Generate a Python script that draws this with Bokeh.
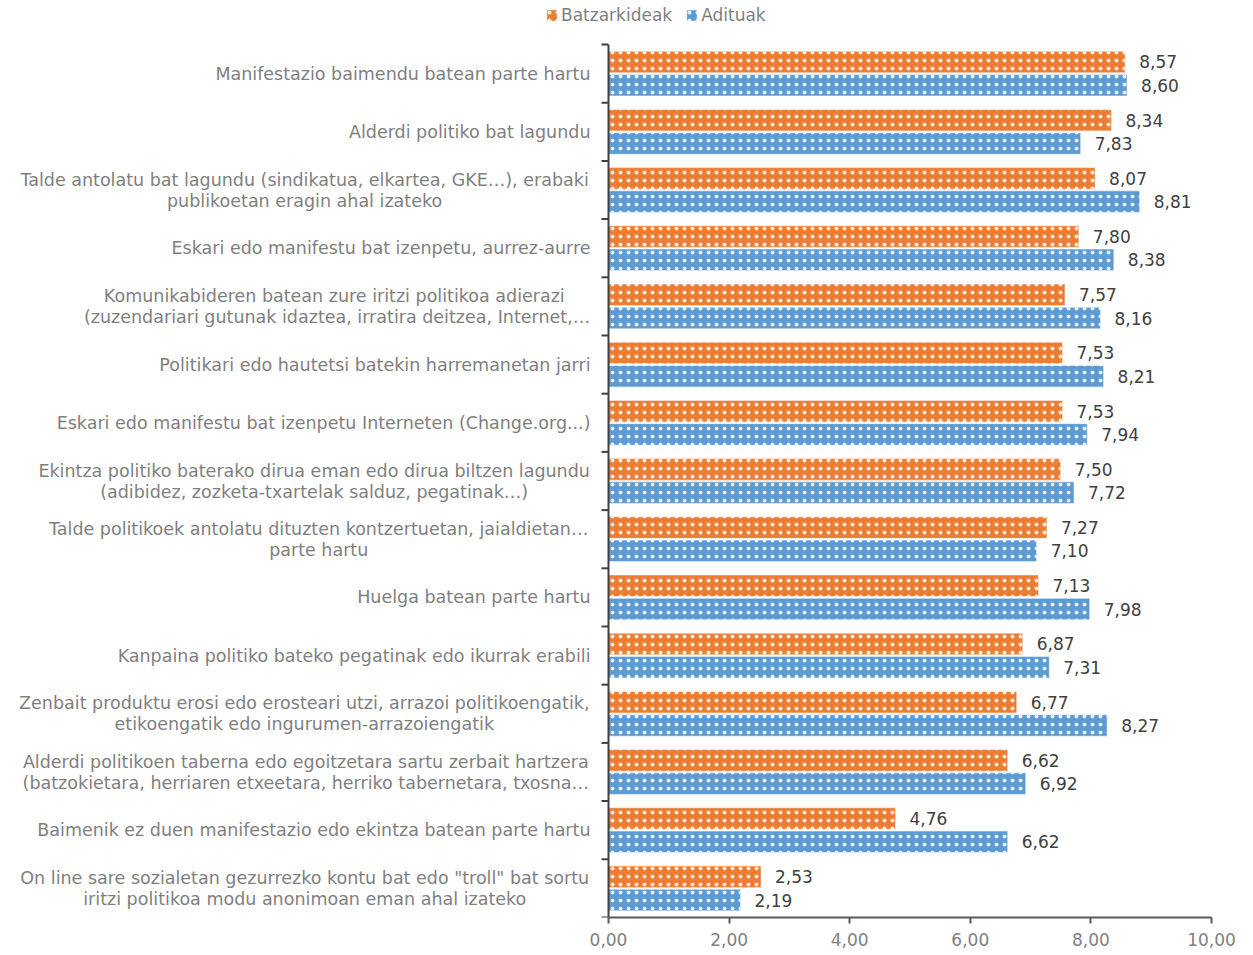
from bokeh.plotting import figure
from bokeh.models import Range1d, FixedTicker, Legend, LegendItem, ColumnDataSource
from bokeh.transform import dodge
from bokeh.embed import file_html
from bokeh.resources import INLINE
from bokeh.core.properties import value

categories = [
    "Manifestazio baimendu batean parte hartu",
    "Alderdi politiko bat lagundu",
    "Talde antolatu bat lagundu (sindikatua, elkartea, GKE…), erabaki\npublikoetan eragin ahal izateko",
    "Eskari edo manifestu bat izenpetu, aurrez-aurre",
    "Komunikabideren batean zure iritzi politikoa adierazi \n(zuzendariari gutunak idaztea, irratira deitzea, Internet,…",
    "Politikari edo hautetsi batekin harremanetan jarri",
    "Eskari edo manifestu bat izenpetu Interneten (Change.org...)",
    "Ekintza politiko baterako dirua eman edo dirua biltzen lagundu\n(adibidez, zozketa-txartelak salduz, pegatinak…)",
    "Talde politikoek antolatu dituzten kontzertuetan, jaialdietan…\nparte hartu",
    "Huelga batean parte hartu",
    "Kanpaina politiko bateko pegatinak edo ikurrak erabili",
    "Zenbait produktu erosi edo erosteari utzi, arrazoi politikoengatik,\netikoengatik edo ingurumen-arrazoiengatik",
    "Alderdi politikoen taberna edo egoitzetara sartu zerbait hartzera\n(batzokietara, herriaren etxeetara, herriko tabernetara, txosna…",
    "Baimenik ez duen manifestazio edo ekintza batean parte hartu",
    "On line sare sozialetan gezurrezko kontu bat edo \"troll\" bat sortu\niritzi politikoa modu anonimoan eman ahal izateko",
]
batzarkideak = [8.57, 8.34, 8.07, 7.80, 7.57, 7.53, 7.53, 7.50, 7.27, 7.13, 6.87, 6.77, 6.62, 4.76, 2.53]
adituak = [8.60, 7.83, 8.81, 8.38, 8.16, 8.21, 7.94, 7.72, 7.10, 7.98, 7.31, 8.27, 6.92, 6.62, 2.19]
series_names = ["Batzarkideak", "Adituak"]
x_ticks = [0, 2, 4, 6, 8, 10]
x_tick_labels = ["0,00", "2,00", "4,00", "6,00", "8,00", "10,00"]

FONT = "DejaVu Sans"
FS_PX = 17
FS = f"{FS_PX}px"
CAT_FS_PX = 17.5
CAT_FS = f"{CAT_FS_PX}px"
ORANGE = "#ED7D31"
BLUE = "#5B9BD5"
GRAY_TXT = "#7F7F7F"
DARK_TXT = "#404040"

FRAME_W, FRAME_H = 1211, 917
ZERO_PX = 608
PX_PER_UNIT = (FRAME_W - ZERO_PX) / 10.0
TOP_PX = 44
n = len(categories)
CAT_PX = (FRAME_H - TOP_PX) / n

# approximate DejaVu Sans advance widths (units per 2048 em) for label centring
_W = {' ': 651, '!': 821, '"': 940, '(': 799, ')': 799, ',': 651, '-': 739, '.': 651, '/': 690,
      ':': 690, '…': 2048,
      'A': 1401, 'B': 1405, 'C': 1430, 'D': 1577, 'E': 1294, 'F': 1178, 'G': 1587, 'H': 1540,
      'I': 604, 'J': 604, 'K': 1343, 'L': 1141, 'M': 1767, 'N': 1532, 'O': 1612, 'P': 1235,
      'R': 1423, 'S': 1300, 'T': 1251, 'U': 1499, 'Z': 1403,
      'a': 1255, 'b': 1300, 'c': 1126, 'd': 1300, 'e': 1260, 'f': 721, 'g': 1300, 'h': 1298,
      'i': 569, 'j': 569, 'k': 1186, 'l': 569, 'm': 1995, 'n': 1298, 'o': 1253, 'p': 1300,
      'q': 1300, 'r': 842, 's': 1067, 't': 803, 'u': 1298, 'v': 1212, 'w': 1675, 'x': 1212,
      'y': 1212, 'z': 1075}


def text_w(s):
    return sum(_W.get(c, 1303) for c in s) / 2048.0 * CAT_FS_PX


def fmt(v):
    return f"{v:.2f}".replace(".", ",")


p = figure(frame_width=FRAME_W, frame_height=FRAME_H, output_backend="svg", toolbar_location=None,
           x_range=Range1d(-ZERO_PX / PX_PER_UNIT, 10),
           y_range=Range1d(n - 0.5, -0.5 - TOP_PX / CAT_PX),
           y_axis_location=None,
           min_border_left=0, min_border_right=34, min_border_top=0, min_border_bottom=0)
p.extra_x_ranges = {"px": Range1d(0, FRAME_W)}
p.outline_line_color = None
p.xgrid.visible = False
p.ygrid.visible = False
p.background_fill_color = "white"
p.border_fill_color = "white"

src = ColumnDataSource(dict(
    y=list(range(n)),
    b=batzarkideak, a=adituak,
    bl=[fmt(v) for v in batzarkideak], al=[fmt(v) for v in adituak],
))

OFF = 0.2
H = 0.37
common = dict(left=0, height=H, line_color="white", line_alpha=0.5, line_width=1,
              hatch_pattern="dot", hatch_color="white", hatch_scale=8, hatch_weight=0.8,
              hatch_alpha=0.85, source=src)
r1 = p.hbar(y=dodge("y", -OFF), right="b", fill_color=ORANGE, **common)
r2 = p.hbar(y=dodge("y", OFF), right="a", fill_color=BLUE, **common)

txt = dict(text_baseline="middle", text_align="left", x_offset=14,
           text_font=value(FONT), text_font_size=FS, text_color=DARK_TXT, source=src)
p.text(x="b", y=dodge("y", -OFF), text="bl", **txt)
p.text(x="a", y=dodge("y", OFF), text="al", **txt)

# category labels (right edge at RIGHT_PX, multi-line blocks centred)
RIGHT_PX = 590
LINE_OFF = 10.5 / CAT_PX
rx, ry, rt, cx, cy, ct = [], [], [], [], [], []
for i, c in enumerate(categories):
    lines = c.split("\n")
    if len(lines) == 1:
        rx.append(RIGHT_PX); ry.append(i); rt.append(c)
        continue
    widths = [text_w(l) for l in lines]
    W = max(widths)
    center = RIGHT_PX - W / 2.0
    for k, (l, w) in enumerate(zip(lines, widths)):
        yy = i + (k - 0.5) * 2 * LINE_OFF
        stripped = l.rstrip()
        cx.append(center - (w - text_w(stripped)) / 2.0)
        cy.append(yy)
        ct.append(stripped)

lab = dict(text_baseline="middle", text_font=value(FONT), text_font_size=CAT_FS,
           text_color=GRAY_TXT, x_range_name="px")
p.text(x=rx, y=ry, text=rt, text_align="right", **lab)
p.text(x=cx, y=cy, text=ct, text_align="center", **lab)

# vertical category axis with ticks between categories
p.segment(x0=[0], x1=[0], y0=[-0.5], y1=[n - 0.5], line_color=DARK_TXT, line_width=2)
bounds = [k - 0.5 for k in range(n + 1)]
p.segment(x0=[ZERO_PX - 7] * len(bounds), x1=[ZERO_PX] * len(bounds), y0=bounds, y1=bounds,
          line_color=DARK_TXT, line_width=2, x_range_name="px")

ax = p.xaxis[0]
ax.ticker = FixedTicker(ticks=x_ticks)
ax.bounds = (0, 10)
ax.major_label_overrides = {t: l for t, l in zip(x_ticks, x_tick_labels)}
ax.major_label_text_font = FONT
ax.major_label_text_font_size = FS
ax.major_label_text_color = GRAY_TXT
ax.major_label_standoff = 9
ax.axis_line_color = "#595959"
ax.axis_line_width = 2
ax.major_tick_line_color = "#595959"
ax.major_tick_line_width = 2
ax.major_tick_out = 6
ax.major_tick_in = 0
ax.minor_tick_line_color = None

legend = Legend(items=[LegendItem(label=series_names[0], renderers=[r1]),
                       LegendItem(label=series_names[1], renderers=[r2])],
                orientation="horizontal", location=(545, FRAME_H - 25),
                glyph_width=13, glyph_height=14, label_height=14, label_standoff=3,
                spacing=13, padding=0, margin=0, border_line_color=None,
                background_fill_alpha=0,
                label_text_font=FONT, label_text_font_size=FS, label_text_color=GRAY_TXT)
p.add_layout(legend)

open("out.html", "w").write(file_html(p, INLINE))
